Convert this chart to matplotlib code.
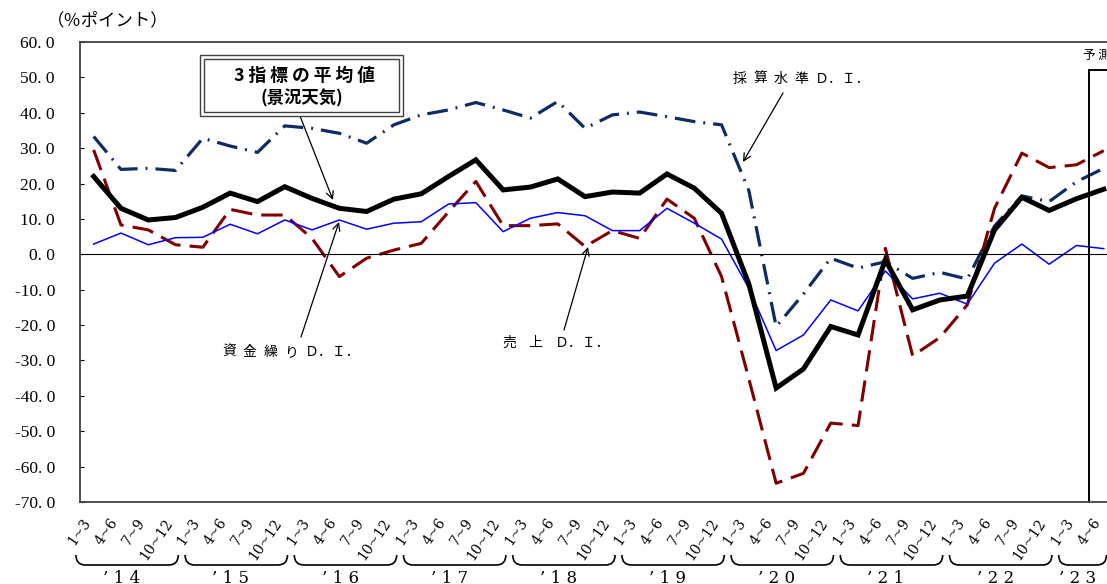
import matplotlib
matplotlib.use("Agg")
import matplotlib.pyplot as plt
import numpy as np
from matplotlib import transforms
from matplotlib.patches import PathPatch, Rectangle
from matplotlib.path import Path
from matplotlib.ticker import FuncFormatter

plt.rcParams["font.family"] = ["Noto Sans CJK JP", "DejaVu Sans"]

# quarterly DI values, 2014 Q1 .. 2023 Q2
quarters = ["1~3", "4~6", "7~9", "10~12"]
years = ["14", "15", "16", "17", "18", "19", "20", "21", "22", "23"]
x_labels = quarters * 9 + quarters[:2]

sales_di = [29.5, 8.3, 6.9, 2.7, 2.0, 12.7, 11.1, 11.1, 4.5, -6.3,
            -1.1, 1.2, 3.1, 12.0, 20.6, 8.1, 8.1, 8.6, 2.2, 6.7,
            4.5, 15.6, 10.2, -6.3, -35.2, -64.7, -61.9, -47.7, -48.4, 1.7,
            -28.7, -23.5, -14.3, 13.0, 28.6, 24.5, 25.3, 29.3]
cash_di = [2.9, 6.0, 2.7, 4.7, 4.8, 8.5, 5.8, 9.7, 6.9, 9.7,
           7.1, 8.8, 9.2, 14.2, 14.6, 6.4, 10.2, 11.8, 10.9, 6.7,
           6.7, 13.0, 8.8, 4.3, -9.6, -27.2, -22.8, -12.9, -16.0, -4.7,
           -12.6, -11.0, -14.1, -2.5, 2.9, -2.8, 2.5, 1.6]
profit_di = [33.3, 24.0, 24.3, 23.7, 32.8, 30.6, 28.8, 36.3, 35.6, 34.2,
             31.4, 36.6, 39.4, 40.8, 42.9, 40.8, 38.5, 43.2, 35.6, 39.4,
             40.2, 38.9, 37.5, 36.6, 18.0, -20.4, -11.2, -1.1, -3.9, -2.1,
             -6.8, -5.1, -7.0, 8.0, 16.5, 14.9, 20.5, 24.3]
average_di = [22.0, 13.0, 9.7, 10.4, 13.3, 17.3, 14.9, 19.1, 15.8, 13.0,
              12.1, 15.6, 17.1, 22.0, 26.7, 18.2, 19.0, 21.3, 16.3, 17.6,
              17.3, 22.7, 18.7, 11.6, -8.4, -37.8, -32.4, -20.4, -22.8, -1.6,
              -15.7, -12.9, -11.8, 6.9, 16.1, 12.4, 15.7, 18.4]

W, H = 1107, 584
SLOT = 27.3  # px per quarter
N_SLOTS = 40


def fx(px):
    return px / W


def fy(py):
    return 1 - py / H


fig = plt.figure(figsize=(W / 100, H / 100), dpi=100)
ax = fig.add_axes([fx(80), fy(502), N_SLOTS * SLOT / W, 460 / H])

x = np.arange(len(average_di))
ax.plot(x, profit_di, color="#0f2b63", lw=2.3, dashes=(6.5, 2.5, 0.6, 2.5),
        dash_capstyle="butt")
ax.plot(x, sales_di, color="#800000", lw=2.2, dashes=(7, 3), dash_capstyle="butt")
ax.plot(x, cash_di, color="#0000ff", lw=1.1)
ax.plot(x, average_di, color="black", lw=3.6, solid_joinstyle="miter")
ax.axhline(0, color="black", lw=0.8)

# forecast frame
ax.plot([36.45, 36.45], [-70, 52.1], color="black", lw=1.4)
ax.plot([36.45, N_SLOTS], [52.1, 52.1], color="black", lw=1.4)

ax.set_xlim(-0.5, N_SLOTS - 0.5)
ax.set_ylim(-70, 60)
ax.set_yticks(np.arange(-70, 61, 10))
ax.yaxis.set_major_formatter(FuncFormatter(lambda v, _: f"{v:.1f}".replace(".", ". ")))
ax.tick_params(axis="y", direction="in", length=3, pad=18, labelsize=12.5)
for lab in ax.get_yticklabels():
    lab.set_fontfamily("Liberation Serif")

ax.set_xticks(x)
ax.set_xticklabels(x_labels, rotation=55, ha="right", va="top",
                   fontsize=10, fontfamily="DejaVu Serif")
ax.tick_params(axis="x", length=0, pad=10)

for side in ["left", "top", "bottom", "right"]:
    ax.spines[side].set_color("#404040")
    ax.spines[side].set_linewidth(1.3)

# year braces under the quarter labels
trans = transforms.blended_transform_factory(ax.transData, fig.transFigure)
for i, yy in enumerate(years):
    g = 4 * i
    n = 4 if i < 9 else 2
    s, e = g - 0.65, g + n - 0.9
    yt, yb = fy(555), fy(565)
    r = 0.35
    verts = [(s, yt), (s, yb), (s + r, yb), (e - r, yb), (e, yb), (e, yt)]
    codes = [Path.MOVETO, Path.CURVE3, Path.CURVE3, Path.LINETO, Path.CURVE3, Path.CURVE3]
    fig.add_artist(PathPatch(Path(verts, codes), transform=trans, fill=False,
                             lw=1.2, ec="black", clip_on=False))
    fig.text((s + e) / 2 - 0.2, fy(570), f"’ {yy[0]} {yy[1]}", transform=trans,
             ha="center", va="top", fontsize=12, fontfamily="DejaVu Serif")

fig.text(fx(108), fy(20), "（％ポイント）", ha="center", va="center", fontsize=12.5)

# legend box for the average
fig.add_artist(Rectangle((fx(200), fy(116)), fx(403) - fx(200), 61 / H,
                         transform=fig.transFigure, fill=True, fc="white",
                         ec="#404040", lw=1.0))
fig.add_artist(Rectangle((fx(204), fy(112)), fx(399) - fx(204), 53 / H,
                         transform=fig.transFigure, fill=False, ec="#404040", lw=1.0))
fig.text(fx(304), fy(76), "3 指 標 の 平 均 値", ha="center", va="center",
         fontsize=12.8, fontweight="bold")
fig.text(fx(302), fy(98), "(景況天気)", ha="center", va="center",
         fontsize=12.5, fontweight="bold")

# series labels: spaced kanji followed by "Ｄ．Ｉ．"
labels = [
    ("採算水準", 733, 79, 20.5, (783, 93), (743, 162)),
    ("資金繰り", 222, 352, 20.8, (301, 337), (339, 222)),
    ("売上", 502, 343, 26.5, (564, 330), (588, 247)),
]
arrow = dict(arrowstyle="->", color="black", lw=0.9, shrinkA=0, shrinkB=0, mutation_scale=13)
for word, tx, ty, pitch, start, end in labels:
    for k, ch in enumerate(word):
        fig.text(fx(tx + k * pitch), fy(ty), ch, ha="left", va="center", fontsize=10)
    fig.text(fx(tx + len(word) * pitch), fy(ty), "Ｄ．Ｉ．", ha="left", va="center", fontsize=10)
    ax.annotate("", xy=(fx(end[0]), fy(end[1])), xytext=(fx(start[0]), fy(start[1])),
                xycoords="figure fraction", textcoords="figure fraction", arrowprops=arrow)
ax.annotate("", xy=(fx(333), fy(200)), xytext=(fx(300), fy(116)),
            xycoords="figure fraction", textcoords="figure fraction", arrowprops=arrow)

fig.text(fx(1083), fy(55), "予 測", ha="left", va="center", fontsize=9)

fig.savefig("out.png", dpi=100)
